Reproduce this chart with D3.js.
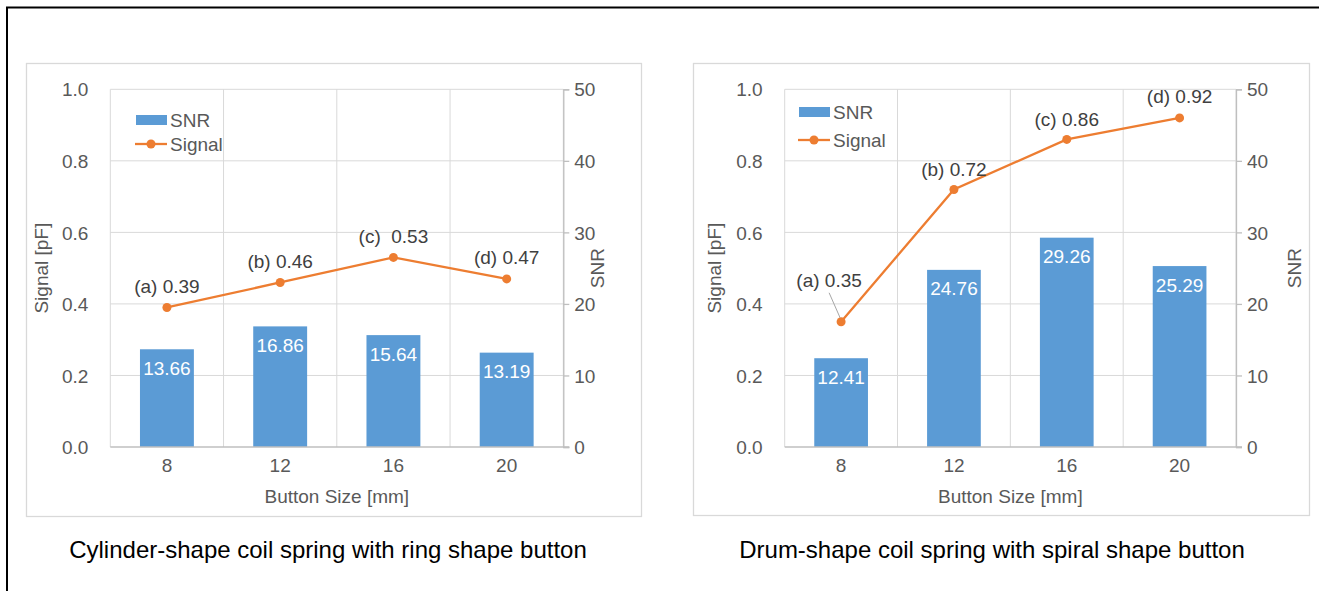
<!DOCTYPE html>
<html>
<head>
<meta charset="utf-8">
<script src="https://cdn.jsdelivr.net/npm/d3@7"></script>
<style>
  html, body { margin: 0; padding: 0; background: #fff; }
  svg { display: block; font-family: "Liberation Sans", Arial, sans-serif; }
  text { white-space: pre; }
</style>
</head>
<body>
<svg id="fig" width="1319" height="591"></svg>
<script>
// Button sizes on the category axis
const sizes = ["8", "12", "16", "20"];

// Cylinder-shape coil spring, ring shape button
const cylinderTags = ["(a)", "(b)", "(c) ", "(d)"];
const cylinderSignal = [0.39, 0.46, 0.53, 0.47];
const cylinderSnr = [13.66, 16.86, 15.64, 13.19];

// Drum-shape coil spring, spiral shape button
const drumTags = ["(a)", "(b)", "(c)", "(d)"];
const drumSignal = [0.35, 0.72, 0.86, 0.92];
const drumSnr = [12.41, 24.76, 29.26, 25.29];

// Axis ticks
const signalTicks = [0, 0.2, 0.4, 0.6, 0.8, 1.0];
const snrTicks = [0, 10, 20, 30, 40, 50];

const captions = [
  "Cylinder-shape coil spring with ring shape button",
  "Drum-shape coil spring with spiral shape button"
];

const COLORS = { bar: "#5B9BD5", line: "#ED7D31", grid: "#D9D9D9", axis: "#BFBFBF",
                 tick: "#595959", label: "#404040" };
const FS = 19;

const svg = d3.select("#fig");

// outer black frame (top and left edges)
svg.append("path")
  .attr("d", "M7,600 V7.5 H1330")
  .attr("fill", "none").attr("stroke", "#000").attr("stroke-width", 2);

function panel(cfg) {
  const g = svg.append("g");
  const { box, plot } = cfg;

  g.append("rect")
    .attr("x", box.x + 0.5).attr("y", box.y + 0.5)
    .attr("width", box.w).attr("height", box.h)
    .attr("fill", "#fff").attr("stroke", COLORS.grid).attr("stroke-width", 1.3);

  const x = d3.scaleBand().domain(sizes)
    .range([plot.x0, plot.x1]).paddingInner(0.524).paddingOuter(0.262);
  const step = x.step();
  const cx = d => x(d) + x.bandwidth() / 2;
  const ySig = d3.scaleLinear().domain([0, 1]).range([plot.y1, plot.y0]);
  const ySnr = d3.scaleLinear().domain([0, 50]).range([plot.y1, plot.y0]);

  // horizontal gridlines
  g.append("g").selectAll("line").data(signalTicks.slice(1)).join("line")
    .attr("x1", plot.x0).attr("x2", plot.x1)
    .attr("y1", d => ySig(d)).attr("y2", d => ySig(d))
    .attr("stroke", COLORS.grid).attr("stroke-width", 1);

  // vertical gridlines at category boundaries
  const bounds = sizes.map(s => x(s) - step * 0.262).concat([plot.x1]);
  g.append("g").selectAll("line").data(bounds).join("line")
    .attr("x1", d => d).attr("x2", d => d)
    .attr("y1", plot.y0).attr("y2", plot.y1)
    .attr("stroke", COLORS.grid).attr("stroke-width", 1);

  // bars (SNR, secondary axis)
  g.append("g").selectAll("rect").data(cfg.snr).join("rect")
    .attr("x", (d, i) => x(sizes[i])).attr("width", x.bandwidth())
    .attr("y", d => ySnr(d)).attr("height", d => ySnr(0) - ySnr(d))
    .attr("fill", COLORS.bar);

  g.append("g").selectAll("text").data(cfg.snr).join("text")
    .attr("x", (d, i) => cx(sizes[i])).attr("y", d => ySnr(d) + 19)
    .attr("text-anchor", "middle").attr("dominant-baseline", "central")
    .attr("font-size", FS).attr("fill", "#fff")
    .text(d => d.toFixed(2));

  // x axis line
  g.append("line")
    .attr("x1", plot.x0).attr("x2", plot.x1 + 6)
    .attr("y1", plot.y1).attr("y2", plot.y1)
    .attr("stroke", COLORS.axis).attr("stroke-width", 1.3);

  // secondary (right) axis
  const right = d3.axisRight(ySnr).tickValues(snrTicks).tickSize(6).tickPadding(5);
  const ra = g.append("g").attr("transform", `translate(${plot.x1},0)`).call(right);
  ra.select(".domain").attr("stroke", COLORS.axis).attr("stroke-width", 1.3);
  ra.selectAll(".tick line").attr("stroke", COLORS.axis).attr("stroke-width", 1.3);
  ra.selectAll(".tick text").attr("font-size", FS).attr("fill", COLORS.tick)
    .attr("font-family", null).attr("dy", "0.35em");

  // primary (left) axis labels
  const left = d3.axisLeft(ySig).tickValues(signalTicks).tickSize(0).tickPadding(22)
    .tickFormat(d3.format(".1f"));
  const la = g.append("g").attr("transform", `translate(${plot.x0},0)`).call(left);
  la.select(".domain").remove();
  la.selectAll(".tick text").attr("font-size", FS).attr("fill", COLORS.tick)
    .attr("font-family", null).attr("dy", "0.35em");

  // category labels
  const xa = g.append("g").attr("transform", `translate(0,${plot.y1})`)
    .call(d3.axisBottom(x).tickSize(0).tickPadding(12));
  xa.select(".domain").remove();
  xa.selectAll(".tick text").attr("font-size", FS).attr("fill", COLORS.tick)
    .attr("font-family", null);

  // axis titles
  g.append("text").attr("x", (plot.x0 + plot.x1) / 2).attr("y", plot.y1 + 49)
    .attr("text-anchor", "middle").attr("dominant-baseline", "central")
    .attr("font-size", FS).attr("fill", COLORS.tick).text("Button Size [mm]");
  g.append("text")
    .attr("transform", `translate(${cfg.yTitleL},${(plot.y0 + plot.y1) / 2}) rotate(-90)`)
    .attr("text-anchor", "middle").attr("dominant-baseline", "central")
    .attr("font-size", FS).attr("fill", COLORS.tick).text("Signal [pF]");
  g.append("text")
    .attr("transform", `translate(${cfg.yTitleR},${(plot.y0 + plot.y1) / 2}) rotate(-90)`)
    .attr("text-anchor", "middle").attr("dominant-baseline", "central")
    .attr("font-size", FS).attr("fill", COLORS.tick).text("SNR");

  // signal line with markers
  const pts = cfg.signal.map((v, i) => [cx(sizes[i]), ySig(v)]);
  g.append("path").datum(pts)
    .attr("d", d3.line())
    .attr("fill", "none").attr("stroke", COLORS.line).attr("stroke-width", 2.3);
  g.append("g").selectAll("circle").data(pts).join("circle")
    .attr("cx", d => d[0]).attr("cy", d => d[1]).attr("r", 4.5)
    .attr("fill", COLORS.line);

  // signal value labels
  cfg.signal.forEach((v, i) => {
    const off = cfg.labelOffsets[i];
    const lx = pts[i][0] + off[0], ly = pts[i][1] + off[1];
    if (off[2]) {
      g.append("line")
        .attr("x1", lx).attr("y1", ly + 12)
        .attr("x2", pts[i][0] - 1).attr("y2", pts[i][1] - 4)
        .attr("stroke", "#A6A6A6").attr("stroke-width", 1);
    }
    g.append("text").attr("x", lx).attr("y", ly)
      .attr("text-anchor", "middle").attr("dominant-baseline", "central")
      .attr("font-size", FS).attr("fill", COLORS.label)
      .text(`${cfg.tags[i]} ${d3.format(".2f")(v)}`);
  });

  // legend
  const lg = g.append("g");
  lg.append("rect").attr("x", cfg.legend.x).attr("y", cfg.legend.y - 5)
    .attr("width", 31).attr("height", 10).attr("fill", COLORS.bar);
  lg.append("text").attr("x", cfg.legend.x + 34).attr("y", cfg.legend.y)
    .attr("dominant-baseline", "central").attr("font-size", FS)
    .attr("fill", COLORS.tick).text("SNR");
  const ly2 = cfg.legend.y + cfg.legend.gap;
  lg.append("line").attr("x1", cfg.legend.x - 1).attr("x2", cfg.legend.x + 31)
    .attr("y1", ly2).attr("y2", ly2)
    .attr("stroke", COLORS.line).attr("stroke-width", 2.3);
  lg.append("circle").attr("cx", cfg.legend.x + 15).attr("cy", ly2).attr("r", 4.5)
    .attr("fill", COLORS.line);
  lg.append("text").attr("x", cfg.legend.x + 34).attr("y", ly2)
    .attr("dominant-baseline", "central").attr("font-size", FS)
    .attr("fill", COLORS.tick).text("Signal");

  // caption under the panel
  svg.append("text").attr("x", cfg.caption.x).attr("y", cfg.caption.y)
    .attr("text-anchor", "middle").attr("dominant-baseline", "central")
    .attr("font-size", 24).attr("fill", "#000").text(cfg.caption.text);
}

panel({
  box: { x: 26, y: 63, w: 615, h: 453 },
  plot: { x0: 110.3, x1: 563.3, y0: 89.3, y1: 447 },
  tags: cylinderTags, signal: cylinderSignal, snr: cylinderSnr,
  labelOffsets: [[0, -21], [0, -21], [0, -21], [0, -21]],
  legend: { x: 136, y: 120, gap: 24 },
  yTitleL: 41, yTitleR: 597,
  caption: { x: 328, y: 549, text: captions[0] }
});

panel({
  box: { x: 693, y: 63, w: 616, h: 452 },
  plot: { x0: 784.7, x1: 1236, y0: 89.3, y1: 447 },
  tags: drumTags, signal: drumSignal, snr: drumSnr,
  labelOffsets: [[-12, -41, true], [0, -20], [0, -20], [0, -21]],
  legend: { x: 799, y: 112, gap: 28 },
  yTitleL: 714, yTitleR: 1294,
  caption: { x: 992, y: 549, text: captions[1] }
});
</script>
</body>
</html>
